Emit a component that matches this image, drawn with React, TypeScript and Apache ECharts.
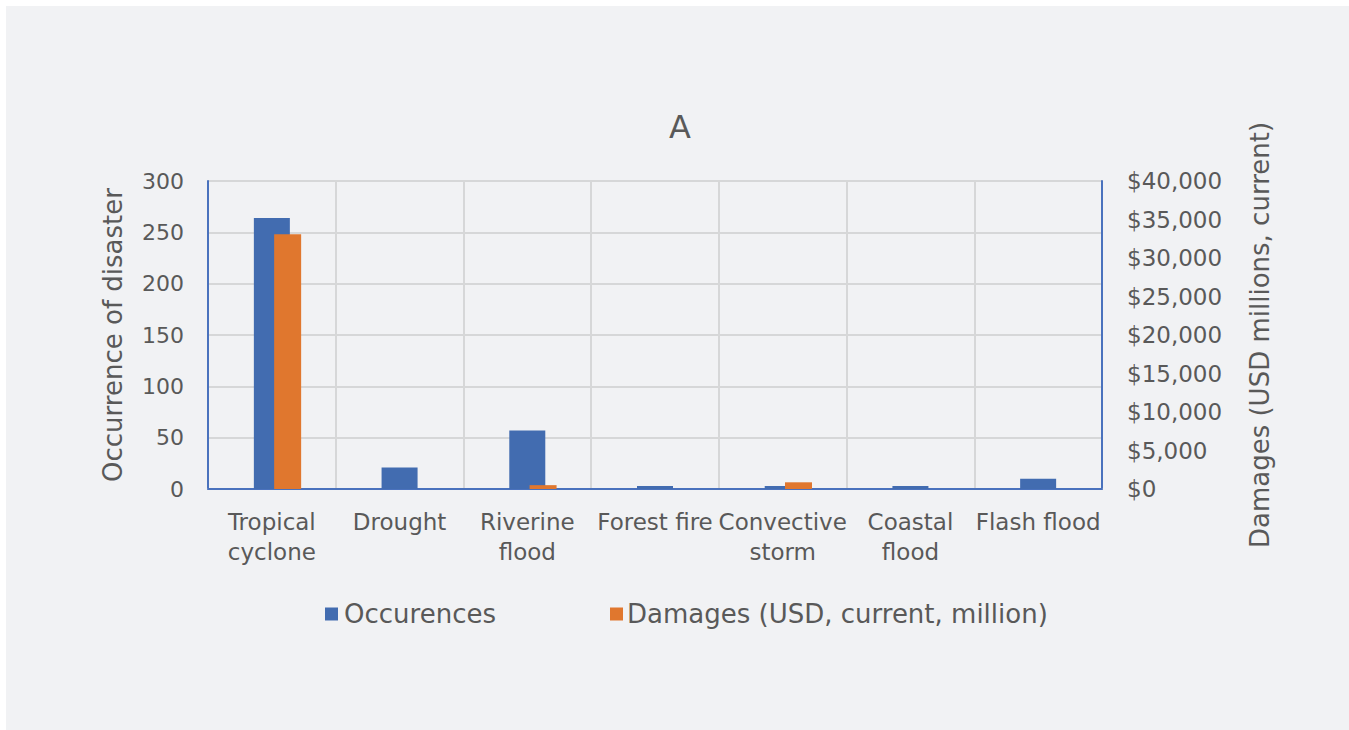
import React, { useEffect, useRef } from "react";
import * as echarts from "echarts";

const categories = [
  "Tropical cyclone",
  "Drought",
  "Riverine flood",
  "Forest fire",
  "Convective storm",
  "Coastal flood",
  "Flash flood",
];
const wrapped = ["Tropical cyclone", "Riverine flood", "Convective storm", "Coastal flood"];
const occurrences = [264, 21, 57, 3, 3, 3, 10];
const damages = [33100, 0, 500, 0, 870, 0, 0];
const leftTicks = { min: 0, max: 300, interval: 50 };
const rightTicks = { min: 0, max: 40000, interval: 5000 };

const FONT = "DejaVu Sans";
const TXT = "#595959";
const BLUE = "#426cb0";
const ORANGE = "#e0772e";
const GRID = "#d6d7d8";
const AXISBLUE = "#4a72bd";

export default function App() {
  const ref = useRef<HTMLDivElement>(null);
  useEffect(() => {
    const chart = echarts.init(ref.current!, undefined, { renderer: "svg" });
    chart.setOption({
      animation: false,
      textStyle: { fontFamily: FONT, color: TXT },
      title: {
        text: "A",
        left: 675,
        top: 106,
        textAlign: "center",
        textStyle: { fontFamily: FONT, fontSize: 32, fontWeight: "normal", color: TXT },
      },
      legend: [
        {
          data: ["Occurences"],
          left: 320,
          top: 596,
          itemWidth: 13,
          itemHeight: 13,
          itemGap: 10,
          icon: "rect",
          textStyle: { fontFamily: FONT, fontSize: 26, color: TXT, padding: [0, 0, 0, 1] },
        },
        {
          data: ["Damages (USD, current, million)"],
          left: 605,
          top: 596,
          itemWidth: 13,
          itemHeight: 13,
          icon: "rect",
          textStyle: { fontFamily: FONT, fontSize: 26, color: TXT, padding: [0, 0, 0, -1] },
        },
      ],
      grid: { left: 208, top: 181, right: 247, bottom: 241, containLabel: false },
      xAxis: [
        {
          type: "category",
          data: categories,
          position: "bottom",
          axisLine: { show: true, lineStyle: { color: GRID, width: 2 } },
          axisTick: { show: false },
          splitLine: { show: true, lineStyle: { color: GRID, width: 2 } },
          axisLabel: {
            interval: 0,
            margin: 18,
            fontFamily: FONT,
            fontSize: 23,
            lineHeight: 30,
            color: TXT,
            formatter: (v: string) => (wrapped.includes(v) ? v.replace(" ", "\n") : v),
          },
        },
        {
          type: "category",
          data: categories,
          position: "top",
          axisLine: { show: true, lineStyle: { color: AXISBLUE, width: 2 } },
          axisTick: { show: false },
          axisLabel: { show: false },
          splitLine: { show: false },
        },
      ],
      yAxis: [
        {
          type: "value",
          ...leftTicks,
          position: "left",
          name: "Occurrence of disaster",
          nameLocation: "middle",
          nameRotate: 90,
          nameGap: 82,
          nameTextStyle: { fontFamily: FONT, fontSize: 26, color: TXT },
          axisLine: { show: true, lineStyle: { color: AXISBLUE, width: 2 } },
          axisTick: { show: false },
          splitLine: { show: true, lineStyle: { color: GRID, width: 2 } },
          axisLabel: { margin: 24, fontFamily: FONT, fontSize: 22, color: TXT },
        },
        {
          type: "value",
          ...rightTicks,
          position: "right",
          name: "Damages (USD millions, current)",
          nameLocation: "middle",
          nameRotate: 90,
          nameGap: 145,
          nameTextStyle: { fontFamily: FONT, fontSize: 26, color: TXT },
          axisLine: { show: true, lineStyle: { color: AXISBLUE, width: 2 } },
          axisTick: { show: false },
          splitLine: { show: false },
          axisLabel: {
            margin: 25,
            fontFamily: FONT,
            fontSize: 23,
            color: TXT,
            formatter: (v: number) => "$" + v.toLocaleString("en-US"),
          },
        },
      ],
      series: [
        {
          name: "Occurences",
          type: "bar",
          xAxisIndex: 0,
          yAxisIndex: 0,
          barWidth: 36,
          data: occurrences,
          itemStyle: { color: BLUE },
        },
        {
          name: "_pad",
          type: "bar",
          xAxisIndex: 1,
          yAxisIndex: 1,
          barWidth: 27,
          barGap: "17%",
          data: categories.map(() => "-"),
        },
        {
          name: "Damages (USD, current, million)",
          type: "bar",
          xAxisIndex: 1,
          yAxisIndex: 1,
          barWidth: 27,
          barGap: "17%",
          data: damages,
          itemStyle: { color: ORANGE },
        },
      ],
    });
    return () => chart.dispose();
  }, []);
  return (
    <div style={{ position: "fixed", left: 0, top: 0, width: 1349, height: 730, background: "#fff" }}>
      <div style={{ position: "absolute", left: 6, top: 6, width: 1343, height: 724, background: "#f1f2f4" }} />
      <div ref={ref} style={{ position: "absolute", left: 0, top: 0, width: 1349, height: 730 }} />
    </div>
  );
}
